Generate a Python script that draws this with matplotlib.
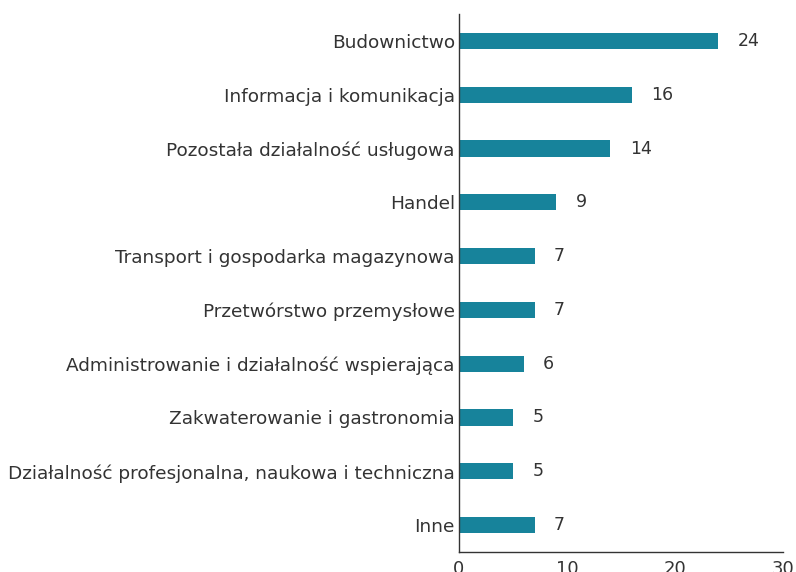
import matplotlib
matplotlib.use("Agg")
import matplotlib.pyplot as plt

categories = [
    "Budownictwo",
    "Informacja i komunikacja",
    "Pozostała działalność usługowa",
    "Handel",
    "Transport i gospodarka magazynowa",
    "Przetwórstwo przemysłowe",
    "Administrowanie i działalność wspierająca",
    "Zakwaterowanie i gastronomia",
    "Działalność profesjonalna, naukowa i techniczna",
    "Inne",
]
values = [24, 16, 14, 9, 7, 7, 6, 5, 5, 7]
xticks = [0, 10, 20, 30]

plt.rcParams['font.family'] = ['DejaVu Sans']
fig = plt.figure(figsize=(7.96, 5.72), dpi=100)
ax = fig.add_axes([459/796, 20/572, 324/796, 538/572])

bar_color = "#17839b"
text_color = "#333333"
ypos = list(range(len(categories)))
ax.barh(ypos, values, height=0.3, color=bar_color)
for y, v in zip(ypos, values):
    ax.annotate(str(v), (v, y), xytext=(14, 0), textcoords="offset points",
                va="center", ha="left", fontsize=12.5, color=text_color)

ax.set_yticks(ypos)
ax.set_yticklabels(categories, fontsize=13.3, color=text_color)
ax.set_xticks(xticks)
ax.set_xticklabels([str(t) for t in xticks], fontsize=13, color=text_color)
ax.set_xlim(0, 30)
ax.set_ylim(9.5, -0.5)
ax.tick_params(axis="y", length=0, pad=3)
ax.tick_params(axis="x", length=0, pad=6)
for s in ["top", "right"]:
    ax.spines[s].set_visible(False)
for s in ["left", "bottom"]:
    ax.spines[s].set_color(text_color)
    ax.spines[s].set_linewidth(1)

fig.savefig("out.png", dpi=100)
